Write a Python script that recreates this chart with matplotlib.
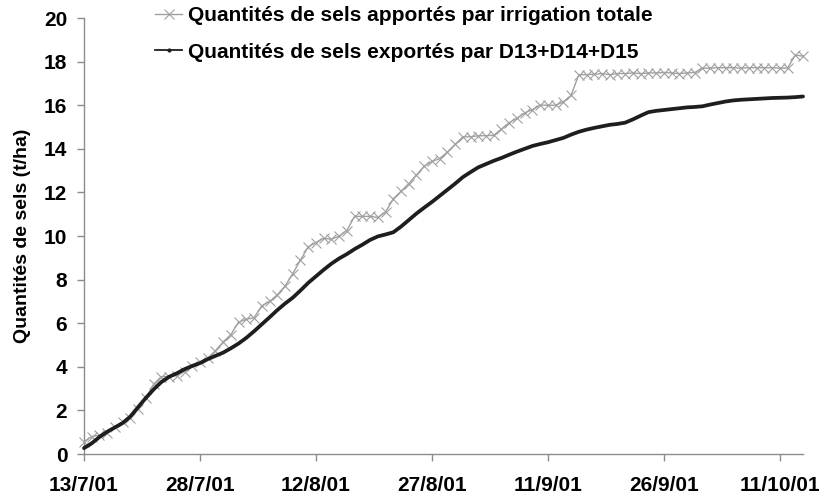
import matplotlib
matplotlib.use("Agg")
import matplotlib.pyplot as plt
import numpy as np
import pandas as pd
from matplotlib.lines import Line2D

plt.rcParams['font.family'] = ['Liberation Sans', 'DejaVu Sans']
plt.rcParams['font.weight'] = 'bold'

# daily values, 13/7/01 -> 14/10/01
dates = pd.date_range('2001-07-13', periods=94, freq='D')

irrigation = [
    0.56, 0.8, 0.87, 0.96, 1.24, 1.47, 1.67, 2.06, 2.56, 3.2,
    3.55, 3.55, 3.6, 3.78, 4.03, 4.22, 4.4, 4.74, 5.14, 5.48,
    6.05, 6.18, 6.25, 6.8, 7.0, 7.3, 7.7, 8.27, 8.9, 9.5,
    9.7, 9.9, 9.85, 10.0, 10.25, 10.9, 10.9, 10.9, 10.85, 11.1,
    11.7, 12.05, 12.4, 12.8, 13.2, 13.42, 13.55, 13.85, 14.2, 14.55,
    14.55, 14.6, 14.6, 14.62, 14.9, 15.2, 15.4, 15.65, 15.8, 16.0,
    16.0, 16.0, 16.15, 16.45, 17.4, 17.4, 17.42, 17.45, 17.4, 17.45,
    17.45, 17.48, 17.45, 17.48, 17.48, 17.5, 17.48, 17.45, 17.48, 17.5,
    17.7, 17.7, 17.72, 17.72, 17.72, 17.7, 17.72, 17.72, 17.72, 17.72,
    17.7, 17.7, 18.3, 18.25,
]

exportes = [
    0.27, 0.49, 0.78, 1.02, 1.22, 1.42, 1.72, 2.15, 2.57, 2.96,
    3.3, 3.54, 3.7, 3.89, 4.04, 4.17, 4.35, 4.5, 4.65, 4.85,
    5.07, 5.33, 5.63, 5.95, 6.27, 6.6, 6.9, 7.17, 7.5, 7.85,
    8.15, 8.45, 8.73, 8.97, 9.17, 9.4, 9.6, 9.82, 9.98, 10.07,
    10.17, 10.43, 10.73, 11.03, 11.3, 11.56, 11.84, 12.12, 12.4, 12.7,
    12.93, 13.15, 13.3, 13.45, 13.58, 13.73, 13.87, 14.0, 14.13, 14.22,
    14.3, 14.4, 14.5, 14.65, 14.78, 14.88, 14.96, 15.03, 15.1, 15.14,
    15.2, 15.35, 15.52, 15.68, 15.74, 15.78, 15.82, 15.86, 15.9, 15.92,
    15.95, 16.03, 16.1, 16.17, 16.22, 16.25, 16.27, 16.29, 16.31, 16.33,
    16.34, 16.35, 16.37, 16.4,
]

tick_dates = pd.to_datetime(['2001-07-13', '2001-07-28', '2001-08-12', '2001-08-27',
                             '2001-09-11', '2001-09-26', '2001-10-11'])
tick_labels = ['13/7/01', '28/7/01', '12/8/01', '27/8/01', '11/9/01', '26/9/01', '11/10/01']
y_ticks = [0, 2, 4, 6, 8, 10, 12, 14, 16, 18, 20]

label_irr = 'Quantités de sels apportés par irrigation totale'
label_exp = 'Quantités de sels exportés par D13+D14+D15'

fig = plt.figure(figsize=(8.2, 4.97), dpi=100)
ax = fig.add_axes([84 / 820, 1 - 454 / 497, (803 - 84) / 820, (454 - 18) / 497])

grey = '#8c8c8c'
ax.plot(dates, irrigation, color='#a0a0a0', lw=1.0, marker='x', ms=6.5, mew=0.8,
        clip_on=False, zorder=3)
ax.plot(dates, exportes, color='#1e1e1e', lw=2.7, solid_capstyle='round',
        clip_on=False, zorder=4)

ax.set_xlim(dates[0], dates[0] + pd.Timedelta(days=93))
ax.set_ylim(0, 20)
ax.set_xticks(tick_dates)
ax.set_xticklabels(tick_labels)
ax.set_yticks(y_ticks)

for s in ['top', 'right']:
    ax.spines[s].set_visible(False)
for s in ['left', 'bottom']:
    ax.spines[s].set_color(grey)
    ax.spines[s].set_linewidth(1.0)

ax.tick_params(axis='both', direction='out', length=5, width=1, color=grey,
               labelsize=15)
ax.tick_params(axis='x', pad=11)
ax.tick_params(axis='y', pad=7)
for t in ax.get_xticklabels() + ax.get_yticklabels():
    t.set_fontweight('bold')

ax.set_ylabel('Quantités de sels (t/ha)', fontsize=14, fontweight='bold', labelpad=9)

handles = [
    Line2D([], [], color='#a0a0a0', lw=1.0, marker='x', ms=7, mew=0.8),
    Line2D([], [], color='#1e1e1e', lw=1.3, marker='o', ms=2),
]
leg = fig.legend(handles, [label_irr, label_exp], loc='upper left',
                 bbox_to_anchor=(155 / 820, 1 - 6 / 497), frameon=False,
                 prop={'size': 15, 'weight': 'bold'}, handlelength=1.3,
                 handletextpad=0.3, labelspacing=0.85, borderpad=0, borderaxespad=0)

fig.savefig('out.png', dpi=100)
